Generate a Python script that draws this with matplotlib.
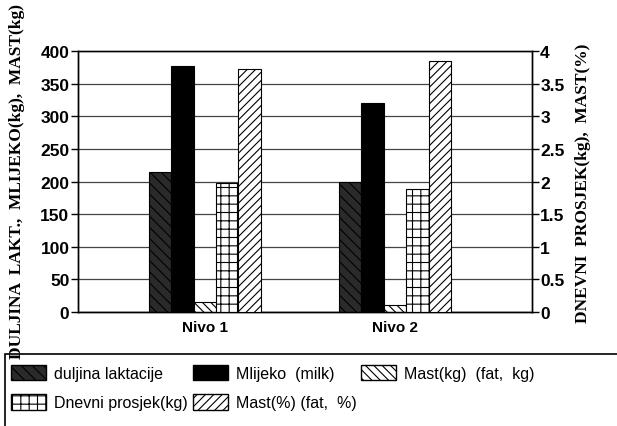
import numpy as np
import matplotlib
matplotlib.use("Agg")
import matplotlib.pyplot as plt
from matplotlib.patches import Patch, Rectangle

# data
groups = ["Nivo 1", "Nivo 2"]
duljina = [215, 200]          # duljina laktacije (left axis)
mlijeko = [377, 320]          # Mlijeko (milk), kg (left axis)
mast_kg = [15, 10]            # Mast(kg) (left axis)
dnevni = [1.97, 1.88]         # Dnevni prosjek(kg) (right axis)
mast_pct = [3.72, 3.85]       # Mast(%) (right axis)

plt.rcParams["hatch.linewidth"] = 0.8
sans = ["Liberation Sans", "DejaVu Sans"]
serif = ["Liberation Serif", "DejaVu Serif"]

fig = plt.figure(figsize=(6.17, 4.27), dpi=100)
ax = fig.add_axes([0.126, 0.267, 0.736, 0.611])
ax2 = ax.twinx()

x = np.arange(len(groups))
w = 0.118
off = np.array([-2, -1, 0, 1, 2]) * w

ax.bar(x + off[0], duljina, w, color="#2a2a2a", edgecolor="black", hatch="\\\\\\", lw=0.8, zorder=3)
ax.bar(x + off[1], mlijeko, w, color="black", edgecolor="black", lw=0.8, zorder=3)
ax.bar(x + off[2], mast_kg, w, color="white", edgecolor="black", hatch="\\\\\\\\", lw=0.8, zorder=3)
ax2.bar(x + off[3], dnevni, w, color="white", edgecolor="black", hatch="++", lw=0.8, zorder=3)
ax2.bar(x + off[4], mast_pct, w, color="white", edgecolor="black", hatch="////", lw=0.8, zorder=3)

ax.set_xlim(-0.668, 1.72)
ax.set_ylim(0, 400)
ax2.set_ylim(0, 4)
ax.set_yticks(np.arange(0, 401, 50))
ax2.set_yticks(np.arange(0, 4.01, 0.5))
ax2.set_yticklabels(["0", "0.5", "1", "1.5", "2", "2.5", "3", "3.5", "4"])
ax.set_xticks(x)
ax.set_xticklabels(groups)
ax.grid(axis="y", color="#444444", lw=0.9, zorder=0)
ax.set_axisbelow(True)

for a in (ax, ax2):
    a.tick_params(axis="y", length=5, width=1, labelsize=12.5, pad=1)
    for lab in a.get_yticklabels():
        lab.set_family(sans)
        lab.set_fontweight("bold")
    for s in a.spines.values():
        s.set_linewidth(1)
ax.tick_params(axis="x", length=0, labelsize=11, pad=6)
for lab in ax.get_xticklabels():
    lab.set_family(sans)
    lab.set_fontweight("bold")
ax.spines["top"].set_color("#555555")

fig.text(0.027, 0.575, "DULJINA  LAKT.,  MLIJEKO(kg),  MAST(kg)", rotation=90,
         ha="center", va="center", family=serif, fontweight="bold", fontsize=12.5)
fig.text(0.945, 0.57, "DNEVNI  PROSJEK(kg),  MAST(%)", rotation=90,
         ha="center", va="center", family=serif, fontweight="bold", fontsize=12.5)

# legend frame running off the right edge as in the scan
fig.patches.append(Rectangle((0.008, -0.05), 1.1, 0.219, transform=fig.transFigure,
                             fill=False, edgecolor="black", lw=1.2))

handles = [
    Patch(facecolor="#2a2a2a", edgecolor="black", hatch="\\\\\\", label="duljina laktacije"),
    Patch(facecolor="white", edgecolor="black", hatch="++", label="Dnevni prosjek(kg)"),
    Patch(facecolor="black", edgecolor="black", label="Mlijeko  (milk)"),
    Patch(facecolor="white", edgecolor="black", hatch="////", label="Mast(%) (fat,  %)"),
    Patch(facecolor="white", edgecolor="black", hatch="\\\\\\\\", label="Mast(kg)  (fat,  kg)"),
]
leg = fig.legend(handles=handles, ncol=3, loc="upper left",
                 bbox_to_anchor=(0.01, 0.155), frameon=False,
                 prop={"family": sans, "size": 11.5}, handlelength=2.2,
                 handleheight=1.1, columnspacing=0.3, handletextpad=0.5,
                 borderaxespad=0, labelspacing=0.85, borderpad=0.3)

fig.savefig("out.png", dpi=100)
